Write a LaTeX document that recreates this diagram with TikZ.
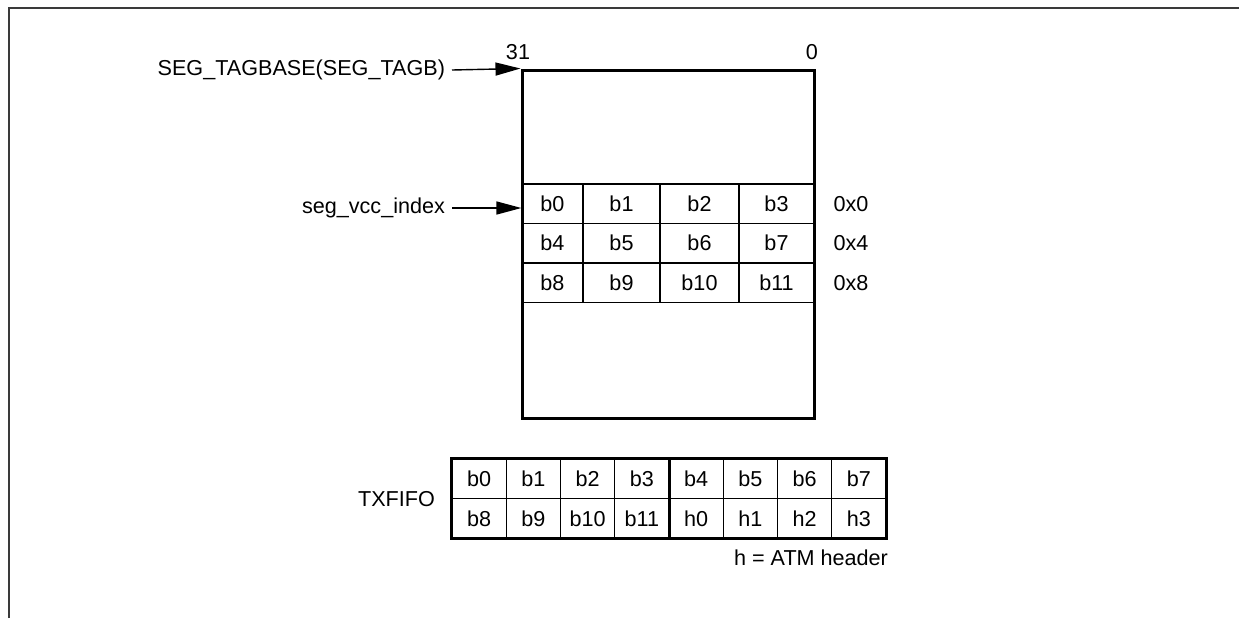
\documentclass[tikz,border=0pt]{standalone}
\usepackage{fontspec}
\setmainfont{Liberation Sans}
\usetikzlibrary{arrows.meta}
\definecolor{framegray}{HTML}{3A3A3A}
\tikzset{
  cell/.style={draw, line width=0.6pt, minimum height=19.75pt,
               inner sep=0pt, anchor=center},
  memcell/.style={cell},
  fifocell/.style={cell, minimum width=27.125pt},
  membox/.style={draw, line width=1.5pt, minimum width=146pt,
                 minimum height=174pt, inner sep=0pt},
  ptr/.style={-{Triangle[length=12.5pt,width=6.5pt]}, line width=0.7pt},
}

\begin{document}
\begin{tikzpicture}[x=0.5pt, y=-0.5pt, font=\fontsize{10.8}{12}\selectfont]
    \useasboundingbox (0,0) rectangle (1239,618);
    \draw[framegray, line width=1pt] (9,618) -- (9,8) -- (1239,8);
    % memory segment
    \node[membox] (mem) at (668,244) {};
    \node (msb) at (518,52) {31};
    \node (lsb) at (812,52) {0};
    \node[memcell, minimum width=30.5pt] (m0) at (552.5,203.75) {b0};
    \node[memcell, minimum width=38.5pt] (m1) at (621.5,203.75) {b1};
    \node[memcell, minimum width=39.5pt] (m2) at (699.5,203.75) {b2};
    \node[memcell, minimum width=37.5pt] (m3) at (776.5,203.75) {b3};
    \node[memcell, minimum width=30.5pt] (m4) at (552.5,243.25) {b4};
    \node[memcell, minimum width=38.5pt] (m5) at (621.5,243.25) {b5};
    \node[memcell, minimum width=39.5pt] (m6) at (699.5,243.25) {b6};
    \node[memcell, minimum width=37.5pt] (m7) at (776.5,243.25) {b7};
    \node[memcell, minimum width=30.5pt] (m8) at (552.5,282.75) {b8};
    \node[memcell, minimum width=38.5pt] (m9) at (621.5,282.75) {b9};
    \node[memcell, minimum width=39.5pt] (m10) at (699.5,282.75) {b10};
    \node[memcell, minimum width=37.5pt] (m11) at (776.5,282.75) {b11};
    \node (off0) at (851,203.75) {0x0};
    \node (off4) at (851,243.25) {0x4};
    \node (off8) at (851,282.75) {0x8};
    \node[anchor=east] (tagbase) at (452,70) {SEG\_TAGBASE(SEG\_TAGB)};
    \draw[ptr] (tagbase.east) -- (mem.north west);
    \node[anchor=east] (vccidx) at (452,208) {seg\_vcc\_index};
    \draw[ptr] (vccidx.east) -- (vccidx.east -| m0.west);
    % transmit fifo
    \node[fifocell] (f0) at (479.1,479) {b0};
    \node[fifocell] (f1) at (533.4,479) {b1};
    \node[fifocell] (f2) at (587.6,479) {b2};
    \node[fifocell] (f3) at (641.9,479) {b3};
    \node[fifocell] (f4) at (696.1,479) {b4};
    \node[fifocell] (f5) at (750.4,479) {b5};
    \node[fifocell] (f6) at (804.6,479) {b6};
    \node[fifocell] (f7) at (858.9,479) {b7};
    \node[fifocell] (f8) at (479.1,518.5) {b8};
    \node[fifocell] (f9) at (533.4,518.5) {b9};
    \node[fifocell] (f10) at (587.6,518.5) {b10};
    \node[fifocell] (f11) at (641.9,518.5) {b11};
    \node[fifocell] (f12) at (696.1,518.5) {h0};
    \node[fifocell] (f13) at (750.4,518.5) {h1};
    \node[fifocell] (f14) at (804.6,518.5) {h2};
    \node[fifocell] (f15) at (858.9,518.5) {h3};
    \draw[line width=1.5pt] (f0.north west) rectangle (f15.south east);
    \draw[line width=1.5pt] (f3.north east) -- (f11.south east);
    \node[anchor=east] (fifo) at (442,499) {TXFIFO};
    \node[anchor=east] (legend) at (895,558) {h = ATM header};
  \end{tikzpicture}
\end{document}
